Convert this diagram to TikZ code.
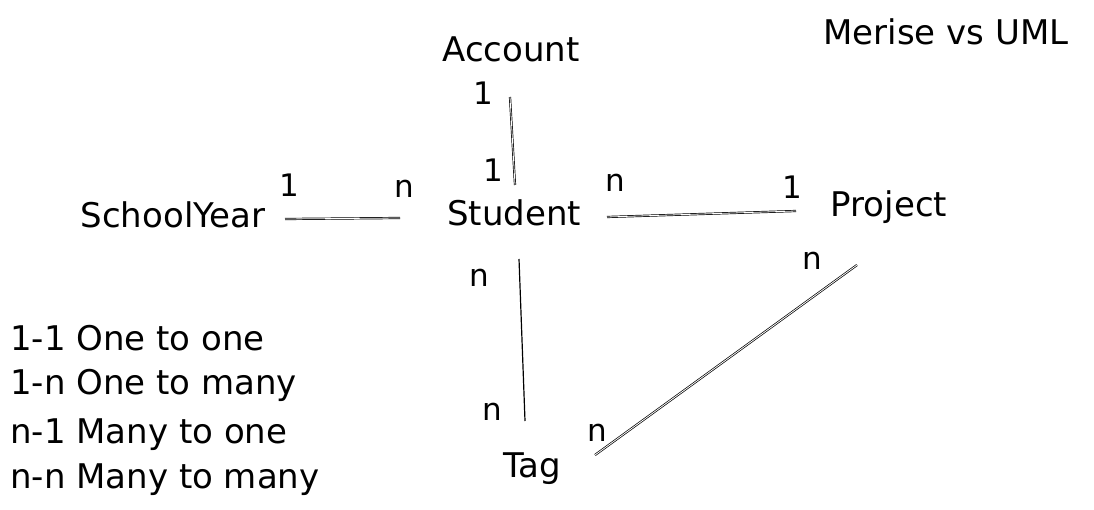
\documentclass[tikz,border=0pt]{standalone}
\usepackage{fontspec}
\setmainfont{DejaVu Sans}
\begin{document}
\begin{tikzpicture}[x=1pt,y=-1pt,
  lbl/.style={inner sep=0pt,anchor=base,font=\fontsize{34}{40}\selectfont},
  leg/.style={inner sep=0pt,anchor=base west,font=\fontsize{34}{40}\selectfont},
  card/.style={inner sep=0pt,anchor=base,font=\fontsize{31}{36}\selectfont},
  link/.style={draw=black,line width=0.7pt,double=white,double distance=0.8pt}]
\useasboundingbox (0,0) rectangle (1094,510);
% entities
\node[lbl] (title) at (946,45) {Merise vs UML};
\node[lbl] (account) at (511,62) {Account};
\node[lbl] (student) at (514,226) {Student};
\node[lbl] (schoolyear) at (173,228) {SchoolYear};
\node[lbl] (project) at (889,217) {Project};
\node[lbl] (tag) at (532,477) {Tag};
% legend
\node[leg] (l1) at (10,350) {1-1 One to one};
\node[leg] (l2) at (10,394) {1-n One to many};
\node[leg] (l3) at (10,443) {n-1 Many to one};
\node[leg] (l4) at (10,488) {n-n Many to many};
% cardinalities
\node[card] (c1) at (483,105) {1};
\node[card] (c2) at (493,182) {1};
\node[card] (c3) at (289,197) {1};
\node[card] (c4) at (404,198) {n};
\node[card] (c5) at (615,192) {n};
\node[card] (c6) at (792,199) {1};
\node[card] (c7) at (479,287) {n};
\node[card] (c8) at (492,420) {n};
\node[card] (c9) at (812,270) {n};
\node[card] (c10) at (597,441) {n};
% connector ends
\coordinate (acc-s) at (510,97);
\coordinate (stu-n) at (515,185);
\coordinate (sy-e) at (285,219);
\coordinate (stu-w) at (400,218);
\coordinate (stu-e) at (607,217);
\coordinate (pro-w) at (796,211);
\coordinate (stu-s) at (519,259);
\coordinate (tag-n) at (525,421);
\coordinate (tag-e) at (595,455);
\coordinate (pro-s) at (857,265);
% connectors
\draw[link] (acc-s) -- (stu-n);
\draw[link] (sy-e) -- (stu-w);
\draw[link] (stu-e) -- (pro-w);
\draw[line width=1.2pt] (stu-s) -- (tag-n);
\draw[link] (tag-e) -- (pro-s);
\end{tikzpicture}
\end{document}
